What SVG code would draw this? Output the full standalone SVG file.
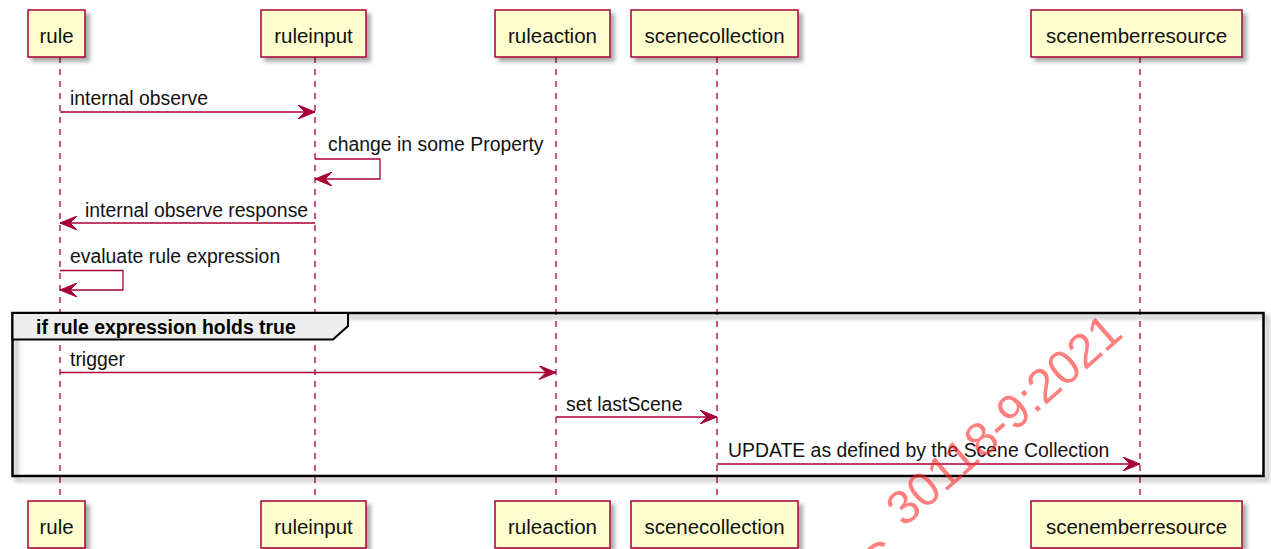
<svg xmlns="http://www.w3.org/2000/svg" width="1271" height="549" viewBox="0 0 1271 549">
  <defs>
    <filter id="shadow" x="-20%" y="-20%" width="150%" height="160%">
      <feGaussianBlur in="SourceAlpha" stdDeviation="2.2"/>
      <feOffset dx="4" dy="4" result="b"/>
      <feFlood flood-color="#000" flood-opacity="0.35"/>
      <feComposite in2="b" operator="in"/>
      <feMerge><feMergeNode/><feMergeNode in="SourceGraphic"/></feMerge>
    </filter>
    <marker id="head" viewBox="0 0 17 14" refX="17" refY="7" markerWidth="17" markerHeight="14" markerUnits="userSpaceOnUse" orient="auto">
      <polygon points="0,0 17,7 0,14 7,7" fill="#A80036" stroke="#A80036" stroke-width="1"/>
    </marker>
  </defs>
  <style>
    .box { fill: #FEFECE; stroke: #A80036; stroke-width: 1.5; }
    .ptext { font-family: "Liberation Sans", Arial, sans-serif; font-size: 20.5px; fill: #111; text-anchor: middle; }
    .life { stroke: #A80036; stroke-width: 1.3; stroke-dasharray: 6,6; fill: none; }
    .msg { stroke: #A80036; stroke-width: 1.3; fill: none; }
    .arrow { marker-end: url(#head); }
    .mtext { font-family: "Liberation Sans", Arial, sans-serif; font-size: 19.4px; fill: #111; }
    .frame { fill: none; stroke: #000; stroke-width: 2.5; }
    .tab { fill: #EEEEEE; stroke: #000; stroke-width: 2; }
    .gtext { font-family: "Liberation Sans", Arial, sans-serif; font-size: 19.4px; font-weight: bold; fill: #000; }
    .mark { font-family: "Liberation Sans", Arial, sans-serif; font-size: 48px; fill: #ff2a2a; fill-opacity: 0.6; text-anchor: end; }
  </style>

  <rect width="1271" height="549" fill="#fff"/>

  <!-- lifelines -->
  <g id="lifelines">
    <line class="life" x1="60" y1="57" x2="60" y2="501"/>
    <line class="life" x1="315" y1="57" x2="315" y2="501"/>
    <line class="life" x1="556" y1="57" x2="556" y2="501"/>
    <line class="life" x1="717" y1="57" x2="717" y2="501"/>
    <line class="life" x1="1140" y1="57" x2="1140" y2="501"/>
  </g>

  <!-- alt frame -->
  <g id="group-if">
    <rect class="frame" x="12.5" y="313" width="1251" height="163" filter="url(#shadow)"/>
    <path class="tab" d="M12.5,313 L348,313 L348,326 L333,339.5 L12.5,339.5 Z"/>
    <text class="gtext" x="36" y="334">if rule expression holds true</text>
  </g>

  <!-- participants (top and bottom) -->
  <g id="rule">
    <rect class="box" x="28" y="10" width="57" height="47" filter="url(#shadow)"/>
    <text class="ptext" x="56.5" y="42.5">rule</text>
    <rect class="box" x="28" y="501" width="57" height="47" filter="url(#shadow)"/>
    <text class="ptext" x="56.5" y="533.5">rule</text>
  </g>
  <g id="ruleinput">
    <rect class="box" x="261" y="10" width="105" height="47" filter="url(#shadow)"/>
    <text class="ptext" x="313.5" y="42.5">ruleinput</text>
    <rect class="box" x="261" y="501" width="105" height="47" filter="url(#shadow)"/>
    <text class="ptext" x="313.5" y="533.5">ruleinput</text>
  </g>
  <g id="ruleaction">
    <rect class="box" x="495" y="10" width="115" height="47" filter="url(#shadow)"/>
    <text class="ptext" x="552.5" y="42.5">ruleaction</text>
    <rect class="box" x="495" y="501" width="115" height="47" filter="url(#shadow)"/>
    <text class="ptext" x="552.5" y="533.5">ruleaction</text>
  </g>
  <g id="scenecollection">
    <rect class="box" x="631" y="10" width="167" height="47" filter="url(#shadow)"/>
    <text class="ptext" x="714.5" y="42.5">scenecollection</text>
    <rect class="box" x="631" y="501" width="167" height="47" filter="url(#shadow)"/>
    <text class="ptext" x="714.5" y="533.5">scenecollection</text>
  </g>
  <g id="scenemberresource">
    <rect class="box" x="1031" y="10" width="211" height="47" filter="url(#shadow)"/>
    <text class="ptext" x="1136.5" y="42.5">scenemberresource</text>
    <rect class="box" x="1031" y="501" width="211" height="47" filter="url(#shadow)"/>
    <text class="ptext" x="1136.5" y="533.5">scenemberresource</text>
  </g>

  <!-- messages -->
  <g id="connectors">
    <line class="msg arrow" x1="60" y1="112" x2="315" y2="112"/>
    <polyline class="msg arrow" points="315,159 380,159 380,179 315,179"/>
    <line class="msg arrow" x1="315" y1="223" x2="60" y2="223"/>
    <polyline class="msg arrow" points="60,270.5 123,270.5 123,290 60,290"/>
    <line class="msg arrow" x1="60" y1="372.5" x2="556" y2="372.5"/>
    <line class="msg arrow" x1="556" y1="417" x2="717" y2="417"/>
    <line class="msg arrow" x1="717" y1="464" x2="1140" y2="464"/>
  </g>

  <g id="labels">
    <text class="mtext" x="70" y="105">internal observe</text>
    <text class="mtext" x="328" y="151">change in some Property</text>
    <text class="mtext" x="85" y="217">internal observe response</text>
    <text class="mtext" x="70" y="263">evaluate rule expression</text>
    <text class="mtext" x="70" y="366">trigger</text>
    <text class="mtext" x="566" y="411">set lastScene</text>
    <text class="mtext" x="728" y="457">UPDATE as defined by the Scene Collection</text>
  </g>

  <!-- watermark -->
  <text class="mark" transform="translate(1125,336) rotate(-41)">30118-9:2021</text>
  <text class="mark" transform="translate(904,561) rotate(-41)">ISO/IEC</text>
</svg>
